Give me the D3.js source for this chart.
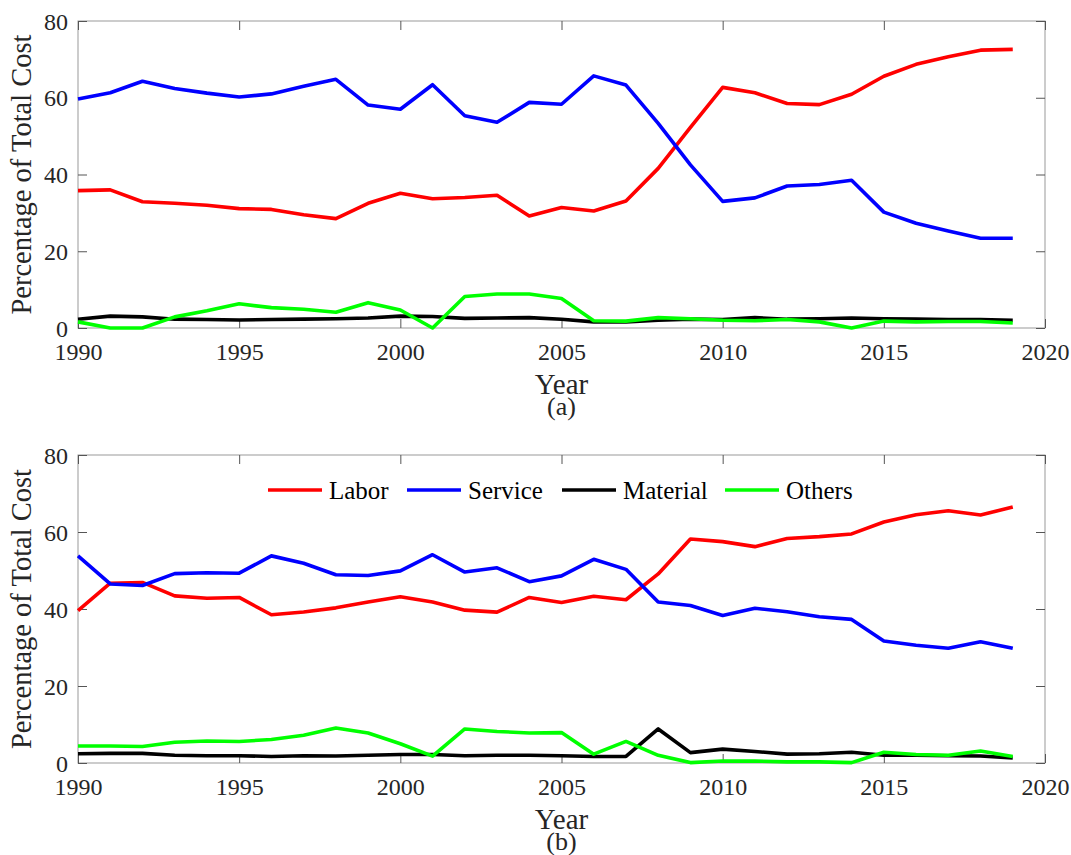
<!DOCTYPE html>
<html><head><meta charset="utf-8">
<script src="https://cdn.jsdelivr.net/npm/d3@7"></script>
<style>body{margin:0;background:#fff} svg text{font-family:'Liberation Serif','Times New Roman',serif !important;}</style>
</head><body>
<script>
const years = d3.range(1990, 2020);
const seriesNames = ["Labor","Service","Material","Others"];
const seriesColors = ["#ff0000","#0000ff","#000000","#00ff00"];
const xTicks = [1990,1995,2000,2005,2010,2015,2020];
const yTicks = [0,20,40,60,80];

// Panel (a)
const laborA = [35.8,36.0,32.9,32.5,32.0,31.1,30.9,29.5,28.5,32.5,35.1,33.7,34.0,34.6,29.2,31.4,30.5,33.1,41.6,52.3,62.7,61.3,58.5,58.2,60.9,65.6,68.7,70.7,72.4,72.6];
const serviceA = [59.7,61.3,64.3,62.4,61.2,60.2,61.0,63.0,64.8,58.1,57.0,63.4,55.3,53.6,58.8,58.3,65.7,63.3,53.3,42.5,33.0,33.9,37.0,37.4,38.5,30.2,27.3,25.3,23.4,23.4];
const materialA = [2.3,3.1,2.9,2.3,2.2,2.1,2.2,2.3,2.4,2.6,3.1,3.0,2.5,2.6,2.7,2.3,1.6,1.6,2.0,2.3,2.2,2.7,2.3,2.4,2.6,2.4,2.3,2.2,2.2,2.0];
const othersA = [1.6,0.0,0.0,2.9,4.5,6.3,5.3,4.9,4.1,6.6,4.7,0.0,8.2,8.85,8.85,7.7,1.9,1.8,2.7,2.4,2.0,1.9,2.2,1.6,0.0,1.8,1.6,1.7,1.7,1.3];

// Panel (b)
const laborB = [39.6,46.7,46.9,43.4,42.8,43.0,38.5,39.2,40.3,41.8,43.2,41.8,39.7,39.2,43.0,41.7,43.3,42.4,49.1,58.2,57.5,56.2,58.3,58.8,59.5,62.6,64.5,65.5,64.4,66.5];
const serviceB = [53.8,46.5,46.1,49.2,49.4,49.3,53.8,51.9,48.9,48.7,49.9,54.1,49.6,50.7,47.1,48.6,52.9,50.3,41.8,40.9,38.3,40.2,39.3,38.0,37.3,31.7,30.6,29.8,31.5,29.8];
const materialB = [2.4,2.5,2.5,2.0,1.9,1.9,1.7,1.9,1.8,2.0,2.2,2.2,1.9,2.0,2.0,1.9,1.7,1.7,8.85,2.7,3.6,3.0,2.3,2.4,2.8,2.0,2.0,1.9,1.8,1.3];
const othersB = [4.4,4.4,4.3,5.4,5.7,5.6,6.1,7.2,9.1,7.8,5.0,1.8,8.85,8.2,7.8,7.9,2.3,5.6,2.0,0.1,0.5,0.5,0.3,0.3,0.1,2.8,2.2,2.0,3.1,1.7];

const W = 1071, H = 855;
const FONT = "'Liberation Serif','Times New Roman',serif";
const svg = d3.select("body").append("svg").attr("width", W).attr("height", H)
  .style("font-family", FONT);

const textColor = "#262626";
const boxColor = "#999999";

function panel(top, bottom, data, tag, withLegend) {
  const left = 78, right = 1045;
  const x = d3.scaleLinear().domain([1990, 2020]).range([left, right]);
  const y = d3.scaleLinear().domain([0, 80]).range([bottom, top]);
  const g = svg.append("g");

  g.append("rect").attr("x", left).attr("y", top).attr("width", right-left).attr("height", bottom-top)
    .attr("fill", "none").attr("stroke", boxColor).attr("stroke-width", 1);

  const tl = 9;
  const styleAxis = sel => {
    sel.attr("font-family", null).style("font-family", FONT);
    sel.select(".domain").remove();
    sel.selectAll("line").attr("stroke", "#555");
    sel.selectAll("text").style("font-family", FONT);
  };
  const xb = g.append("g").attr("transform", `translate(0,${bottom})`)
    .call(d3.axisBottom(x).tickValues(xTicks).tickFormat(d3.format("d")).tickSize(-tl).tickPadding(0));
  styleAxis(xb);
  xb.selectAll("text").attr("font-size", 24).attr("fill", textColor).attr("dy", null).attr("y", 32);
  const xt = g.append("g").attr("transform", `translate(0,${top})`)
    .call(d3.axisTop(x).tickValues(xTicks).tickFormat("").tickSize(-tl));
  styleAxis(xt);

  const yl = g.append("g").attr("transform", `translate(${left},0)`)
    .call(d3.axisLeft(y).tickValues(yTicks).tickSize(-tl).tickPadding(10));
  styleAxis(yl);
  yl.selectAll("text").attr("font-size", 24).attr("fill", textColor).attr("x", -10).attr("dy", "0.34em");
  const yr = g.append("g").attr("transform", `translate(${right},0)`)
    .call(d3.axisRight(y).tickValues(yTicks).tickFormat("").tickSize(-tl));
  styleAxis(yr);

  const line = d3.line().x((d, i) => x(years[i])).y(d => y(d));
  data.forEach((s, k) => {
    g.append("path").datum(s).attr("d", line).attr("fill", "none")
      .attr("stroke", seriesColors[k]).attr("stroke-width", 3.6).attr("stroke-linejoin", "round");
  });

  g.append("text").attr("x", (left+right)/2).attr("y", bottom + 66).attr("text-anchor", "middle")
    .attr("font-size", 29).attr("fill", textColor).text("Year");
  g.append("text").attr("x", (left+right)/2).attr("y", bottom + 87).attr("text-anchor", "middle")
    .attr("font-size", 26).attr("fill", textColor).text(tag);
  g.append("text").attr("transform", `translate(31,${(top+bottom)/2}) rotate(-90)`)
    .attr("text-anchor", "middle").attr("font-size", 28.5).attr("fill", textColor).text("Percentage of Total Cost");

  if (withLegend) {
    const lx = [268, 407, 562, 725];
    const ly = top + 35;
    seriesNames.forEach((n, k) => {
      g.append("line").attr("x1", lx[k]).attr("x2", lx[k] + 54).attr("y1", ly).attr("y2", ly)
        .attr("stroke", seriesColors[k]).attr("stroke-width", 3.6);
      g.append("text").attr("x", lx[k] + 61).attr("y", ly).attr("dy", "0.34em")
        .attr("font-size", 25).attr("fill", "#000").text(n);
    });
  }
}

panel(21, 328, [laborA, serviceA, materialA, othersA], "(a)", false);
panel(455, 763, [laborB, serviceB, materialB, othersB], "(b)", true);
</script>
</body></html>
